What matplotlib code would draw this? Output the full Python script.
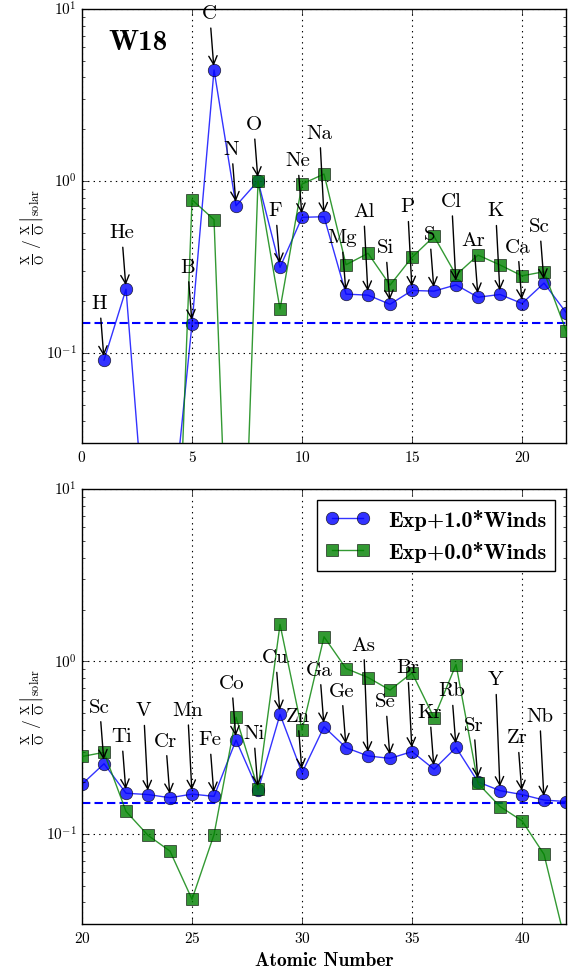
import numpy as np
import matplotlib
matplotlib.use('Agg')
import matplotlib.pyplot as plt

plt.style.use('classic')
plt.rcParams['font.family'] = 'cmr10'
plt.rcParams['mathtext.fontset'] = 'cm'
plt.rcParams['axes.formatter.use_mathtext'] = True
plt.rcParams['figure.facecolor'] = 'white'
plt.rcParams['savefig.facecolor'] = 'white'

# 元素与丰度比 (X/O)/(X/O)_solar
elements = ['H', 'He', 'Li', 'Be', 'B', 'C', 'N', 'O', 'F', 'Ne', 'Na', 'Mg',
            'Al', 'Si', 'P', 'S', 'Cl', 'Ar', 'K', 'Ca', 'Sc', 'Ti', 'V', 'Cr',
            'Mn', 'Fe', 'Co', 'Ni', 'Cu', 'Zn', 'Ga', 'Ge', 'As', 'Se', 'Br',
            'Kr', 'Rb', 'Sr', 'Y', 'Zr', 'Nb', 'Mo']
atomic_number = np.arange(1, len(elements) + 1)

winds_1 = [0.091, 0.235, 0.0056, 0.0081, 0.148, 4.42, 0.718, 1.0, 0.315, 0.615,
           0.62, 0.220, 0.217, 0.192, 0.231, 0.229, 0.249, 0.211, 0.219, 0.194,
           0.255, 0.172, 0.169, 0.162, 0.170, 0.165, 0.350, 0.179, 0.493, 0.226,
           0.418, 0.316, 0.283, 0.274, 0.300, 0.237, 0.317, 0.200, 0.178, 0.169,
           0.157, 0.154]
winds_0 = [1e-5, 1e-5, 1e-5, 3.3e-4, 0.778, 0.596, 2.3e-4, 1.0, 0.180, 0.96,
           1.098, 0.326, 0.380, 0.248, 0.360, 0.477, 0.284, 0.371, 0.325, 0.281,
           0.297, 0.135, 0.098, 0.0794, 0.0417, 0.099, 0.475, 0.183, 1.64, 0.40,
           1.39, 0.91, 0.807, 0.682, 0.859, 0.471, 0.96, 0.196, 0.144, 0.119,
           0.076, 0.0227]
reference_level = 0.15

x_ranges = [(0, 22), (20, 42)]
y_range = (0.03, 10)

fig = plt.figure(figsize=(5.76, 9.70), dpi=100)
ax_top = fig.add_axes([0.1424, 0.5423, 0.8403, 0.4474])
ax_bot = fig.add_axes([0.1424, 0.0464, 0.8403, 0.4484])

# 标签位置参数 (以 log10 为单位)
lift = 0.331
step = 0.157
min_gap = 0.114


def label_elements(ax, zmin, zmax):
    """在数据点上方标注元素符号, 与前一个标签重叠时上移"""
    prev = None
    for z, name, v in zip(atomic_number, elements, winds_1):
        if not (zmin < z < zmax) or v < y_range[0]:
            continue
        ty = np.log10(v) + lift
        if prev is not None:
            while abs(ty - prev) < min_gap:
                ty += step
        prev = ty
        ax.annotate(name, xy=(z, v), xytext=(z - 0.2, 10 ** ty),
                    ha='center', va='center', fontsize=15,
                    arrowprops=dict(arrowstyle='->', color='k', lw=1,
                                    shrinkA=2, shrinkB=3))


for ax, (x0, x1) in zip([ax_top, ax_bot], x_ranges):
    ax.axhline(reference_level, color='b', ls='--', lw=1.5, dashes=(6, 3), zorder=1)
    ax.plot(atomic_number, winds_1, '-o', color='b', alpha=0.8, ms=9,
            mec='k', lw=1, label='Exp+1.0*Winds', zorder=2)
    ax.plot(atomic_number, winds_0, '-s', color='g', alpha=0.8, ms=9,
            mec='k', lw=1, label='Exp+0.0*Winds', zorder=3)
    ax.set_yscale('log')
    ax.set_xlim(x0, x1)
    ax.set_ylim(*y_range)
    ax.grid(True, which='major', color='k', ls=':', lw=0.8)
    ax.tick_params(labelsize=11)
    ax.set_ylabel(r'$\frac{\rm X}{\rm O}\ /\ \left.\frac{\rm X}{\rm O}\right|_{\rm solar}$',
                  fontsize=12.5, labelpad=0)
    label_elements(ax, x0, x1)

ax_top.text(0.054, 0.924, 'W18', transform=ax_top.transAxes, family='cmb10',
            fontsize=21, ha='left', va='center')
ax_bot.set_xlabel('Atomic Number', family='cmb10', fontsize=14)
ax_bot.legend(loc='upper right', prop={'family': 'cmb10', 'size': 16})

plt.savefig('out.png', dpi=100)
